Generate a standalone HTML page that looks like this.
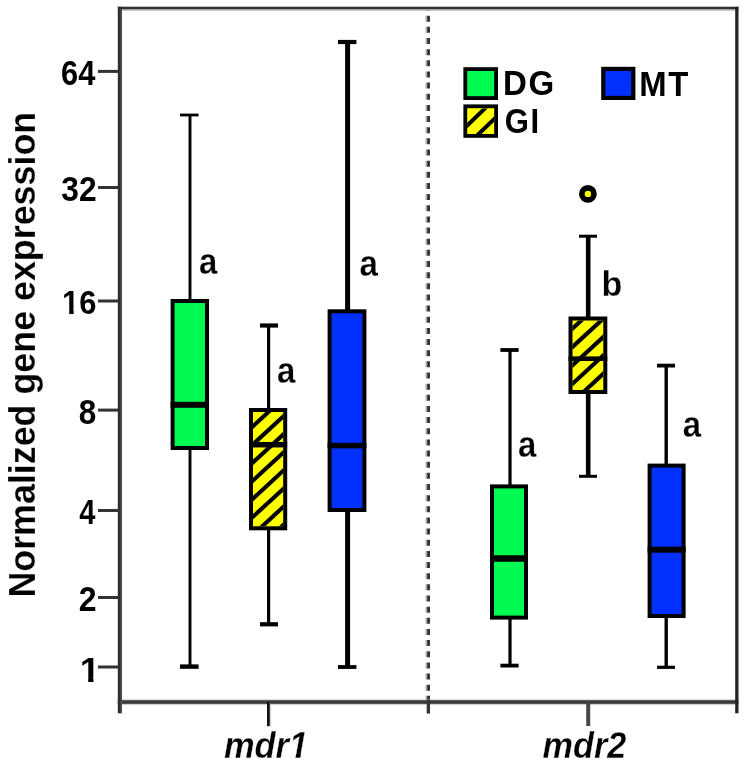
<!DOCTYPE html>
<html lang="en"><head><meta charset="utf-8"><title>Normalized gene expression</title>
<style>html,body{margin:0;padding:0;background:#fff}body{width:745px;height:765px;overflow:hidden}svg{display:block}text{font-family:"Liberation Sans", Arial, Helvetica, sans-serif;fill:#000}</style>
</head><body>
<svg width="745" height="765" viewBox="0 0 745 765">
<rect width="745" height="765" fill="#fff"/>
<g id="frame">
<line x1="426.4" y1="7" x2="426.4" y2="700" stroke="#a8a8a8" stroke-width="1.6" stroke-dasharray="6 5.15" stroke-dashoffset="2.45"/>
<line x1="428.55" y1="7" x2="428.55" y2="700" stroke="#303030" stroke-width="2.8" stroke-dasharray="6 5.15" stroke-dashoffset="2.45"/>
<rect x="121" y="9.0" width="616" height="1.7" fill="#b0b0b0"/>
<rect x="738" y="7" width="1" height="706" fill="#aaa"/>
<rect x="117.8" y="699.6" width="620.6" height="5.0" fill="#b0b0b0"/>
<rect x="117.8" y="700.3" width="620.6" height="3.5" fill="#3c3c3c"/>
<rect x="120" y="6.8" width="2" height="706.5" fill="#4c4c4c"/>
<rect x="117.8" y="6.8" width="2.5" height="706.5" fill="#2e2e2e"/>
<rect x="117.8" y="6.7" width="620.6" height="2.4" fill="#333"/>
<rect x="735.2" y="6.8" width="3" height="706.5" fill="#222"/>
<rect x="426.7" y="700" width="3.3" height="13.6" fill="#333"/>
<rect x="269" y="703" width="1.5" height="23" fill="#999"/>
<rect x="267" y="702" width="2.6" height="24.2" fill="#111"/>
<rect x="586.2" y="702" width="4" height="24" fill="#484848"/>
<rect x="98" y="69.9" width="21" height="3" fill="#333"/>
<rect x="98" y="186.0" width="21" height="3" fill="#333"/>
<rect x="98" y="299.5" width="21" height="3" fill="#333"/>
<rect x="98" y="408.6" width="21" height="3" fill="#333"/>
<rect x="98" y="509.0" width="21" height="3" fill="#333"/>
<rect x="98" y="596.0" width="21" height="3" fill="#333"/>
<rect x="98" y="665.5" width="21" height="3" fill="#333"/>
</g>
<g id="ticklabels">
<text transform="translate(60.98 84.87) scale(1.0123 1.1349)" font-size="30.5" font-weight="bold">64</text>
<text transform="translate(61.27 200.77) scale(1.0406 1.1349)" font-size="30.5" font-weight="bold">32</text>
<g transform="translate(62.12 314.37) scale(1.0146 1.1116)"><text font-size="30.5" font-weight="bold">16</text>
<polygon fill="#fff" points="0.92,1.00 0.92,-4.41 7.02,-4.41 7.02,1.00"/>
<polygon fill="#fff" points="11.40,1.00 11.40,-4.41 16.91,-4.41 16.91,1.00"/>
</g>
<text transform="translate(78.82 423.77) scale(1.0333 1.1349)" font-size="30.5" font-weight="bold">8</text>
<text transform="translate(79.37 524.05) scale(0.9538 1.1381)" font-size="30.5" font-weight="bold">4</text>
<text transform="translate(78.80 611.25) scale(1.0508 1.1435)" font-size="30.5" font-weight="bold">2</text>
<g transform="translate(79.74 682.45) scale(1.2000 1.1238)"><text font-size="30.5" font-weight="bold">1</text>
<polygon fill="#fff" points="0.92,1.00 0.92,-4.41 7.02,-4.41 7.02,1.00"/>
<polygon fill="#fff" points="11.40,1.00 11.40,-4.41 16.91,-4.41 16.91,1.00"/>
</g>
</g>
<text transform="translate(35.04 597.57) scale(1.0315 1.0066) rotate(-90)" font-size="35.6" font-weight="bold" stroke="#fff" stroke-width="0.2">Normalized gene expression</text>
<g transform="translate(223.92 758.19) scale(0.9850 1.0353)"><text font-size="35" font-weight="bold" font-style="italic" stroke="#fff" stroke-width="0.3">mdr1</text>
<polygon fill="#fff" points="65.66,1.03 66.56,-5.23 73.54,-5.23 72.32,1.03"/>
<polygon fill="#fff" points="77.30,1.03 78.51,-5.23 84.73,-5.23 83.98,1.03"/>
</g>
<text transform="translate(542.52 758.19) scale(0.9799 1.0353)" font-size="35" font-weight="bold" font-style="italic" stroke="#fff" stroke-width="0.3">mdr2</text>
<g id="boxes">
<rect x="188.55" y="115.0" width="2.9" height="551.6" fill="#000"/>
<rect x="180" y="113.60" width="18.6" height="2.8" fill="#000"/>
<rect x="180" y="664.40" width="18.6" height="4.4" fill="#000"/>
<rect x="170.6" y="299" width="38.4" height="151.0" fill="#000"/>
<rect x="174.6" y="303" width="30.4" height="143.0" fill="#00FA52"/>
<rect x="170.6" y="401.80" width="38.4" height="6" fill="#000"/>
<rect x="267.00" y="325.5" width="3.2" height="298.8" fill="#000"/>
<rect x="260" y="323.40" width="18.0" height="4.2" fill="#000"/>
<rect x="260" y="622.20" width="18.0" height="4.2" fill="#000"/>
<rect x="249" y="408" width="38.2" height="122.3" fill="#000"/>
<rect x="253" y="412" width="30.2" height="114.3" fill="#FFFF00"/>
<clipPath id="hc1"><rect x="253" y="412" width="30.2" height="114.3"/></clipPath>
<g clip-path="url(#hc1)" stroke="#000" stroke-width="4.1">
<line x1="248.0" y1="430.8" x2="288.2" y2="393.8"/>
<line x1="248.0" y1="448.9" x2="288.2" y2="411.9"/>
<line x1="248.0" y1="467.0" x2="288.2" y2="430.0"/>
<line x1="248.0" y1="485.1" x2="288.2" y2="448.1"/>
<line x1="248.0" y1="503.2" x2="288.2" y2="466.2"/>
<line x1="248.0" y1="521.3" x2="288.2" y2="484.3"/>
<line x1="248.0" y1="539.4" x2="288.2" y2="502.4"/>
<line x1="248.0" y1="557.5" x2="288.2" y2="520.5"/>
</g>
<rect x="249" y="441.95" width="38.2" height="5.5" fill="#000"/>
<rect x="345.10" y="42.0" width="5" height="625.0" fill="#000"/>
<rect x="338" y="39.90" width="18.4" height="4.2" fill="#000"/>
<rect x="338" y="665.10" width="18.4" height="3.8" fill="#000"/>
<rect x="327.6" y="309.3" width="38.8" height="202.7" fill="#000"/>
<rect x="331.6" y="313.3" width="30.8" height="194.7" fill="#0230FF"/>
<rect x="327.6" y="442.85" width="38.8" height="5.5" fill="#000"/>
<rect x="508.40" y="350.0" width="3.2" height="315.6" fill="#000"/>
<rect x="500.4" y="348.10" width="18.2" height="3.8" fill="#000"/>
<rect x="500.4" y="663.70" width="18.2" height="3.8" fill="#000"/>
<rect x="490" y="484.4" width="38.0" height="135.2" fill="#000"/>
<rect x="494" y="488.4" width="30.0" height="127.2" fill="#00FA52"/>
<rect x="490" y="555.25" width="38.0" height="6.5" fill="#000"/>
<rect x="585.90" y="236.2" width="4.6" height="240.1" fill="#000"/>
<rect x="579" y="234.70" width="18.0" height="3" fill="#000"/>
<rect x="579" y="474.80" width="18.0" height="3" fill="#000"/>
<rect x="568.5" y="316.5" width="38.8" height="77.5" fill="#000"/>
<rect x="572.5" y="320.5" width="30.8" height="69.5" fill="#FFFF00"/>
<clipPath id="hc2"><rect x="572.5" y="320.5" width="30.8" height="69.5"/></clipPath>
<g clip-path="url(#hc2)" stroke="#000" stroke-width="4.1">
<line x1="567.5" y1="333.1" x2="608.3" y2="295.6"/>
<line x1="567.5" y1="351.5" x2="608.3" y2="314.0"/>
<line x1="567.5" y1="369.9" x2="608.3" y2="332.4"/>
<line x1="567.5" y1="388.3" x2="608.3" y2="350.8"/>
<line x1="567.5" y1="406.7" x2="608.3" y2="369.2"/>
<line x1="567.5" y1="425.1" x2="608.3" y2="387.6"/>
</g>
<rect x="568.5" y="356.40" width="38.8" height="4.6" fill="#000"/>
<rect x="664.50" y="365.6" width="3.4" height="301.7" fill="#000"/>
<rect x="657" y="363.70" width="18.0" height="3.8" fill="#000"/>
<rect x="657" y="665.70" width="18.0" height="3.2" fill="#000"/>
<rect x="647.6" y="463.6" width="38.0" height="154.4" fill="#000"/>
<rect x="651.6" y="467.6" width="30.0" height="146.4" fill="#0230FF"/>
<rect x="647.6" y="546.70" width="38.0" height="6" fill="#000"/>
<circle cx="587.9" cy="193.9" r="6.05" fill="#FFFF00" stroke="#000" stroke-width="5.7"/>
</g>
<g id="sig">
<text transform="translate(199.02 273.79) scale(0.9263 1.0312)" font-size="35.5" font-weight="bold" stroke="#fff" stroke-width="0.25">a</text>
<text transform="translate(277.07 383.00) scale(0.9289 1.0182)" font-size="35.5" font-weight="bold" stroke="#fff" stroke-width="0.25">a</text>
<text transform="translate(359.42 276.00) scale(0.9316 1.0182)" font-size="35.5" font-weight="bold" stroke="#fff" stroke-width="0.25">a</text>
<text transform="translate(518.02 457.00) scale(0.9263 1.0182)" font-size="35.5" font-weight="bold" stroke="#fff" stroke-width="0.25">a</text>
<text transform="translate(601.49 296.00) scale(0.9611 1.0077)" font-size="35.5" font-weight="bold" stroke="#fff" stroke-width="0.25">b</text>
<text transform="translate(682.82 437.00) scale(0.9263 1.0182)" font-size="35.5" font-weight="bold" stroke="#fff" stroke-width="0.25">a</text>
</g>
<g id="legend">
<rect x="463.4" y="67.2" width="34.6" height="32.8" fill="#000"/>
<rect x="467.2" y="71.0" width="27.0" height="25.2" fill="#00FA52"/>
<rect x="463.4" y="104.4" width="34.6" height="33.4" fill="#000"/>
<rect x="467.2" y="108.2" width="27.0" height="25.8" fill="#FFFF00"/>
<clipPath id="hc3"><rect x="467.2" y="108.4" width="27.0" height="25.6"/></clipPath>
<g clip-path="url(#hc3)" stroke="#000" stroke-width="4.0">
<line x1="462.2" y1="130.4" x2="499.2" y2="94.6"/>
<line x1="462.2" y1="149.9" x2="499.2" y2="114.1"/>
<line x1="462.2" y1="169.4" x2="499.2" y2="133.6"/>
</g>
<rect x="601.2" y="66.8" width="34.2" height="33.2" fill="#000"/>
<rect x="605.4000000000001" y="71.0" width="25.8" height="24.8" fill="#0230FF"/>
<text transform="translate(502.96 95.29) scale(1.0184 1.0522)" font-size="32.5" font-weight="bold" letter-spacing="1.7">DG</text>
<text transform="translate(504.65 133.38) scale(0.9569 1.0652)" font-size="32.5" font-weight="bold" letter-spacing="1.7">GI</text>
<text transform="translate(639.28 95.65) scale(1.0109 1.0921)" font-size="32.5" font-weight="bold" letter-spacing="1.7">MT</text>
</g>
</svg>
</body></html>
